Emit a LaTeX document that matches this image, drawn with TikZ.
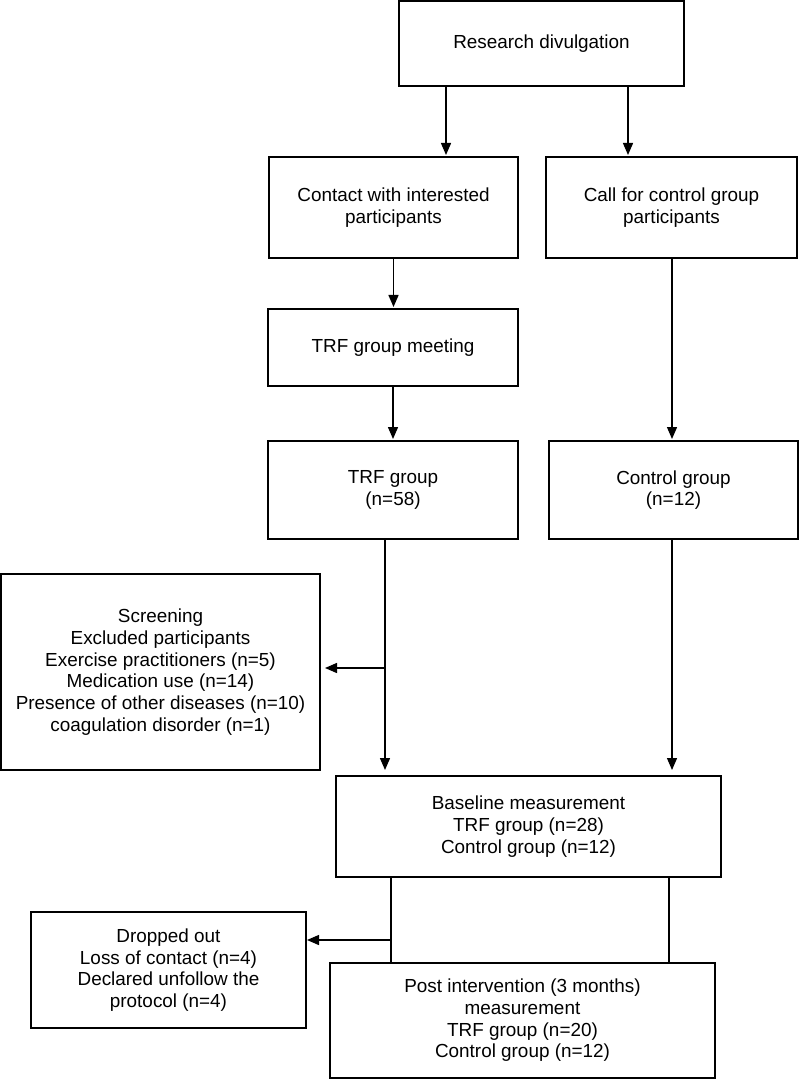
\documentclass[tikz,border=0pt]{standalone}
\usepackage{fontspec}
\setmainfont{Liberation Sans}
\usetikzlibrary{arrows.meta}

\begin{document}
\begin{tikzpicture}[x=0.5pt,y=-0.5pt,
  box/.style={draw,line width=0.7pt,outer sep=0pt,inner sep=0pt,align=center,
    font=\fontsize{9.45}{10.85}\selectfont},
  arr/.style={-{Triangle[length=6pt,width=5pt]},line width=0.7pt,shorten >=1pt},
  link/.style={line width=0.7pt}]
\useasboundingbox (0,0) rectangle (799,1079);

\node[box,minimum width=142.5pt,minimum height=42.5pt] (research) at (541.5,43.5) {Research divulgation};
\node[box,minimum width=124.5pt,minimum height=50.5pt] (contact) at (393.5,207.5) {Contact with interested\\participants};
\node[box,minimum width=125.5pt,minimum height=50.5pt] (call) at (671.5,207.5) {Call for control group\\participants};
\node[box,minimum width=125pt,minimum height=38.5pt] (meeting) at (393,347.5) {TRF group meeting};
\node[box,minimum width=125pt,minimum height=49pt] (trf) at (393,490) {TRF group\\(n=58)};
\node[box,minimum width=124.5pt,minimum height=49pt] (control) at (673.5,490) {Control group\\(n=12)};
\node[box,minimum width=159.5pt,minimum height=98pt] (screening) at (160.5,672) {Screening\\Excluded participants\\Exercise practitioners (n=5)\\Medication use (n=14)\\Presence of other diseases (n=10)\\coagulation disorder (n=1)};
\node[box,minimum width=192.5pt,minimum height=50.5pt] (baseline) at (528.5,826.5) {Baseline measurement\\TRF group (n=28)\\Control group (n=12)};
\node[box,minimum width=137.5pt,minimum height=58pt] (dropped) at (168.5,970) {Dropped out\\Loss of contact (n=4)\\Declared unfollow the\\protocol (n=4)};
\node[box,minimum width=192.5pt,minimum height=57.5pt] (post) at (522.5,1020.5) {Post intervention (3 months)\\measurement\\TRF group (n=20)\\Control group (n=12)};

\coordinate (r1) at (446,0);
\coordinate (r2) at (628,0);
\coordinate (s1) at (385,668);
\coordinate (c1) at (672,0);
\coordinate (d1) at (391,940);
\coordinate (d2) at (669,0);

\draw[arr] (research.south -| r1) -- (contact.north -| r1);
\draw[arr] (research.south -| r2) -- (call.north -| r2);
\draw[arr] (contact.south) -- (meeting.north -| contact.south);
\draw[arr] (meeting.south) -- (trf.north);
\draw[arr] (call.south -| c1) -- (control.north -| c1);
\draw[arr,shorten >=3pt] (trf.south -| s1) -- (baseline.north -| s1);
\draw[arr,shorten >=2.5pt] (s1) -- (s1 -| screening.east);
\draw[arr,shorten >=3pt] (control.south -| c1) -- (baseline.north -| c1);
\draw[link] (baseline.south -| d1) -- (post.north -| d1);
\draw[link] (baseline.south -| d2) -- (post.north -| d2);
\draw[arr,shorten >=0.5pt] (d1) -- (d1 -| dropped.east);
\end{tikzpicture}
\end{document}
